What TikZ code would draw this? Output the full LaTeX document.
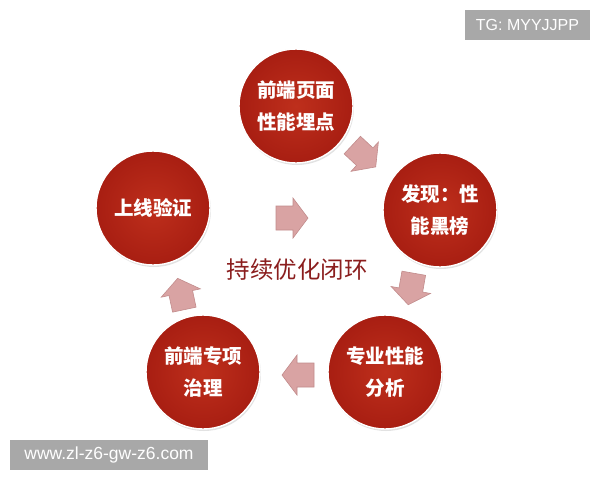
\documentclass[tikz,border=0pt]{standalone}
\usepackage{fontspec}
\setmainfont{Liberation Sans}
\newfontfamily\cjk{Noto Sans CJK SC}
\usetikzlibrary{shadows}
\definecolor{cinner}{HTML}{BE2F1C}
\definecolor{couter}{HTML}{A81E12}
\definecolor{arrowfill}{HTML}{D9A3A3}
\definecolor{arrowedge}{HTML}{C28C8C}
\definecolor{titlered}{HTML}{8B1E1E}
\definecolor{markgray}{HTML}{A8A8A8}
\begin{document}
\begin{tikzpicture}[x=1pt,y=-1pt,
  stage/.style={circle, minimum size=114pt, inner sep=0pt,
    shading=radial, inner color=cinner, outer color=couter,
    draw=white, line width=1.4pt,
    drop shadow={shadow xshift=1pt, shadow yshift=-2pt, fill=black!22},
    text=white, align=center,
    font=\cjk\bfseries\fontsize{19.5}{32}\selectfont},
  flow/.pic={\filldraw[fill=arrowfill, draw=arrowedge, line width=0.6pt]
    (-16,-12) -- (1,-12) -- (1,-20) -- (16,0) -- (1,20) -- (1,12) -- (-16,12) -- cycle;},
  wmark/.style={fill=markgray, text=white, inner sep=0pt}
]
\fill[white] (0,0) rectangle (600,480);
\useasboundingbox (0,0) rectangle (600,480);

\node[stage] (top) at (296,106) {前端页面\\性能埋点};
\node[stage] (right) at (440,210) {发现：性\\能黑榜};
\node[stage] (br) at (385,372) {专业性能\\分析};
\node[stage] (bl) at (203,372) {前端专项\\治理};
\node[stage] (left) at (153,208) {上线验证};

\pic[rotate=-43] (a1) at (364,156) {flow};
\pic[rotate=-100] (a2) at (411,289) {flow};
\pic[rotate=180] (a3) at (298,375) {flow};
\pic[rotate=102] (a4) at (181,294) {flow};
\pic (a0) at (292,218) {flow};

\node[text=titlered, font=\cjk\fontsize{23.5}{27}\selectfont] (title) at (297,270) {持续优化闭环};

\node[wmark, minimum width=125pt, minimum height=30pt, font=\fontsize{16}{19}\selectfont] (tg) at (527.5,25) {TG: MYYJJPP};
\node[wmark, minimum width=198pt, minimum height=30pt, font=\fontsize{17.5}{20}\selectfont] (www) at (109,455) {www.zl-z6-gw-z6.com};
\end{tikzpicture}
\end{document}
